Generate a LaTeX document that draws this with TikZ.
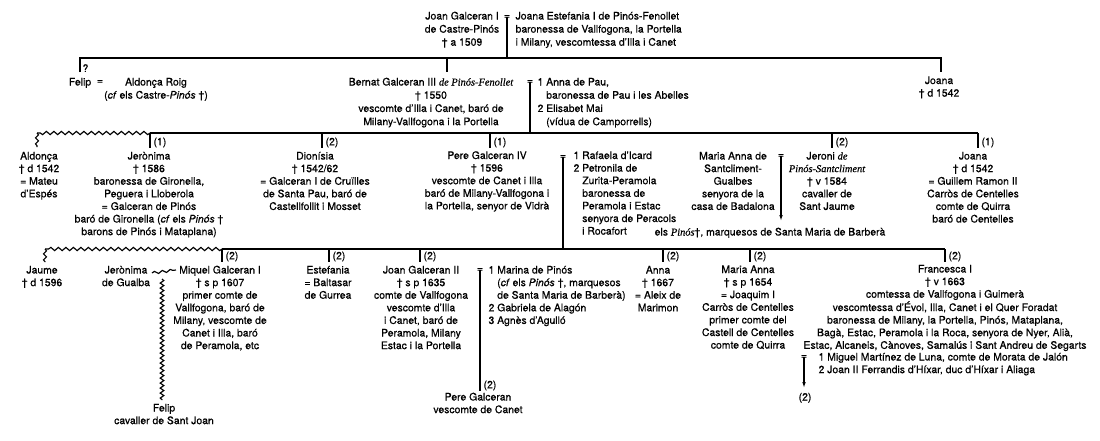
\documentclass[tikz,border=0pt]{standalone}
\usepackage{fontspec}
\setmainfont{TeX Gyre Heros}[UprightFeatures={FakeBold=0.6},ItalicFeatures={FakeBold=0.6}]
\newfontfamily\seriff{Liberation Serif}[ItalicFeatures={FakeBold=0.5}]
\usetikzlibrary{decorations.pathmorphing,arrows.meta}
\newcommand\fs{\fontsize{10.4}{12.6}\selectfont}
\newcommand\ti[1]{{\seriff\itshape #1}}
\newcommand\ctab[1]{\begin{tabular}[t]{@{}c@{}}#1\end{tabular}}
\newcommand\ltab[1]{\begin{tabular}[t]{@{}l@{}}#1\end{tabular}}
\newcommand\ntab[1]{\begin{tabular}[t]{@{}l@{\ }l@{}}#1\end{tabular}}
\begin{document}
\begin{tikzpicture}[x=1pt,y=-1pt, line width=1.15pt,
 txt/.style={inner sep=0pt, anchor=base, font=\fs},
 eqs/.style={inner sep=0pt, font=\fs},
 lbl/.style={inner sep=0pt, anchor=south west, font=\fs, xshift=3pt},
 wavy/.style={decorate, decoration={snake, segment length=7.5pt, amplitude=1.6pt}},
 swavy/.style={decorate, decoration={snake, segment length=6pt, amplitude=1.5pt}},
 fwavy/.style={decorate, decoration={snake, segment length=5pt, amplitude=1.8pt}},
 arr/.style={-{Latex[length=6pt,width=3.6pt]}}]
\fill[white] (0,0) rectangle (1100,440);
\useasboundingbox (0,0) rectangle (1100,440);

% ---- top generation
\node[txt] (jg1) at (462,19.5) {\def\arraystretch{1.04}\ctab{Joan Galceran I\\de Castre-Pinós\\† a 1509}};
\node[eqs] (eq0) at (507,17) {=};
\node[txt,anchor=base west] (je1) at (515,19.5) {\def\arraystretch{1.04}\ltab{Joana Estefania I de Pinós-Fenollet\\baronessa de Vallfogona, la Portella\\i Milany, vescomtessa d’Illa i Canet}};
\coordinate (t0) at (507,58);
\coordinate (tL) at (80,58);
\coordinate (tR) at (941,58);
\coordinate (tB) at (447,58);
\coordinate (fD) at (80,72);
\coordinate (bD) at (447,72);
\coordinate (jD) at (941,72);
\draw (eq0.center) -- (t0);
\draw (fD) -- (tL) -- (tR) -- (jD);
\draw (tB) -- (bD);
\node[inner sep=0pt, anchor=south west, font=\fs] (q) at (82,72.5) {?};

% ---- generation 1
\node[txt] (felip) at (80,85.5) {Felip};
\node[eqs] (eqf) at (100,82) {=};
\node[txt] (aroig) at (156,85.5) {\def\arraystretch{1.04}\ctab{Aldonça Roig\\(\textit{cf} els Castre-\textit{Pinós} †)}};
\node[txt] (bern) at (431,85.5) {\def\arraystretch{1.05}\ctab{Bernat Galceran III \ti{de Pinós-Fenollet}\\† 1550\\vescomte d’Illa i Canet, baró de\\Milany-Vallfogona i la Portella}};
\node[eqs] (eqb) at (530,82) {=};
\node[txt,anchor=base west] (bw) at (537,85.5) {\def\arraystretch{1.05}\ntab{1&Anna de Pau,\\&baronessa de Pau i les Abelles\\2&Elisabet Mai\\&(vídua de Camporrells)}};
\node[txt] (joana1) at (939,84) {\ctab{Joana\\† d 1542}};

% bar 1
\coordinate (l1w) at (37,133);
\coordinate (l1wd) at (37,147);
\coordinate (l1a) at (150,133);
\coordinate (l1b) at (978,133);
\coordinate (eqbB) at (530,133);
\draw (eqb.center) -- (eqbB);
\draw[wavy] (l1a) -- (l1w);
\draw[swavy] (l1w) -- (l1wd);
\draw (l1a) -- (l1b);
\coordinate (d1) at (150,148);
\coordinate (p2) at (322,133);
\coordinate (d2) at (322,148);
\coordinate (p3) at (490,133);
\coordinate (d3) at (490,148);
\coordinate (p4) at (832,133);
\coordinate (d4) at (832,148);
\coordinate (d5) at (978,148);
\draw (l1a) -- (d1) node[lbl] {(1)};
\draw (p2) -- (d2) node[lbl] {(2)};
\draw (p3) -- (d3) node[lbl] {(1)};
\draw (p4) -- (d4) node[lbl] {(2)};
\draw (l1b) -- (d5) node[lbl] {(1)};

% ---- generation 2
\node[txt] (ald) at (39,159.5) {\ctab{Aldonça\\† d 1542\\= Mateu\\d’Espés}};
\node[txt] (jer) at (149,159.5) {\ctab{Jerònima\\† 1586\\baronessa de Gironella,\\Peguera i Lloberola\\= Galceran de Pinós\\baró de Gironella (\textit{cf} els \textit{Pinós} †\\barons de Pinós i Mataplana)}};
\node[txt] (dio) at (315,159.5) {\ctab{Dionísia\\† 1542/62\\= Galceran I de Cruïlles\\de Santa Pau, baró de\\Castellfollit i Mosset}};
\node[txt] (pere) at (487,159) {\ctab{Pere Galceran IV\\† 1596\\vescomte de Canet i Illa\\baró de Milany-Vallfogona i\\la Portella, senyor de Vidrà}};
\node[eqs] (eqp) at (563,157) {=};
\node[txt,anchor=base west] (pw) at (573,159) {\ntab{1&Rafaela d’Icard\\2&Petronila de\\&Zurita-Peramola\\&baronessa de\\&Peramola i Estac\\&senyora de Peracols\\&i Rocafort}};
\node[txt] (mas) at (733,159.5) {\ctab{Maria Anna de\\Santcliment-\\Gualbes\\senyora de la\\casa de Badalona}};
\node[eqs] (eqm) at (781,156) {=};
\coordinate (arm) at (781,221);
\draw[arr] (eqm.center) -- (arm);
\node[txt] (mq) at (770,235.5) {els \ti{Pinós}†, marquesos de Santa Maria de Barberà};
\node[txt] (jeroni) at (827,159.5) {\ctab{Jeroni \ti{de}\\\ti{Pinós-Santcliment}\\† v 1584\\cavaller de\\Sant Jaume}};
\node[txt] (joana2) at (973,159.5) {\ctab{Joana\\† d 1542\\= Guillem Ramon II\\Carròs de Centelles\\comte de Quirra\\baró de Centelles}};

% bar 2
\coordinate (l2w) at (45,249);
\coordinate (l2wd) at (45,262);
\coordinate (l2a) at (222,249);
\coordinate (l2b) at (945,249);
\coordinate (eqpB) at (563,249);
\draw (eqp.center) -- (eqpB);
\draw[wavy] (l2a) -- (l2w);
\draw[swavy] (l2w) -- (l2wd);
\draw (l2a) -- (l2b);
\coordinate (e1) at (222,262);
\coordinate (q2) at (329,249);
\coordinate (e2) at (329,262);
\coordinate (q3) at (420,249);
\coordinate (e3) at (420,262);
\coordinate (q4) at (663,249);
\coordinate (e4) at (663,262);
\coordinate (q5) at (750,249);
\coordinate (e5) at (750,262);
\coordinate (e6) at (945,262);
\draw (l2a) -- (e1) node[lbl] {(2)};
\draw (q2) -- (e2) node[lbl] {(2)};
\draw (q3) -- (e3) node[lbl] {(2)};
\draw (q4) -- (e4) node[lbl] {(2)};
\draw (q5) -- (e5) node[lbl] {(2)};
\draw (l2b) -- (e6) node[lbl] {(2)};

% ---- generation 3
\node[txt] (jaume) at (42,273.5) {\ctab{Jaume\\† d 1596}};
\node[txt] (jgu) at (126,273.5) {\ctab{Jerònima\\de Gualba}};
\node[txt] (miq) at (220,273.5) {\ctab{Miquel Galceran I\\† s p 1607\\primer comte de\\Vallfogona, baró de\\Milany, vescomte de\\Canet i Illa, baró\\de Peramola, etc}};
\coordinate (wg1) at (152,273);
\coordinate (wg2) at (176,270);
\draw[decorate, decoration={snake, segment length=8pt, amplitude=1.3pt}] (wg1) -- (wg2);
\coordinate (fw1) at (162,279);
\coordinate (fw2) at (162,400);
\draw[fwavy] (fw1) -- (fw2);
\node[txt] (felip2) at (164,411.5) {\ctab{Felip\\cavaller de Sant Joan}};
\node[txt] (est) at (328,273.5) {\ctab{Estefania\\= Baltasar\\de Gurrea}};
\node[txt] (jg2) at (421,273.5) {\ctab{Joan Galceran II\\† s p 1635\\comte de Vallfogona\\vescomte d’Illa\\i Canet, baró de\\Peramola, Milany\\Estac i la Portella}};
\node[eqs] (eqj) at (480,270) {=};
\coordinate (pgT) at (480,391);
\draw (eqj.center) -- (pgT) node[lbl] {(2)};
\node[txt] (pg) at (478,400.5) {\ctab{Pere Galceran\\vescomte de Canet}};
\node[txt,anchor=base west] (jw) at (488,273.5) {\ntab{1&Marina de Pinós\\&(\textit{cf} els \textit{Pinós} †, marquesos\\&de Santa Maria de Barberà)\\2&Gabriela de Alagón\\3&Agnès d’Agulló}};
\node[txt] (anna) at (658,273.5) {\ctab{Anna\\† 1667\\= Aleix de\\Marimon}};
\node[txt] (mann) at (748,273) {\ctab{Maria Anna\\† s p 1654\\= Joaquim I\\Carròs de Centelles\\primer comte del\\Castell de Centelles\\comte de Quirra}};
\node[txt] (fra) at (945,272.5) {\ctab{Francesca I\\† v 1663\\comtessa de Vallfogona i Guimerà\\vescomtessa d’Évol, Illa, Canet i el Quer Foradat\\baronessa de Milany, la Portella, Pinós, Mataplana,\\Bagà, Estac, Peramola i la Roca, senyora de Nyer, Alià,\\Estac, Alcaneis, Cànoves, Samalús i Sant Andreu de Segarts}};
\node[eqs] (eqfr) at (804,357) {=};
\node[txt,anchor=base west] (fhw) at (818,360.5) {\ntab{1&Miguel Martínez de Luna, comte de Morata de Jalón\\2&Joan II Ferrandis d’Híxar, duc d’Híxar i Aliaga}};
\coordinate (afr) at (804,388);
\draw[arr] (eqfr.center) -- (afr);
\node[txt] (fr2) at (805,400.5) {(2)};
\end{tikzpicture}
\end{document}
